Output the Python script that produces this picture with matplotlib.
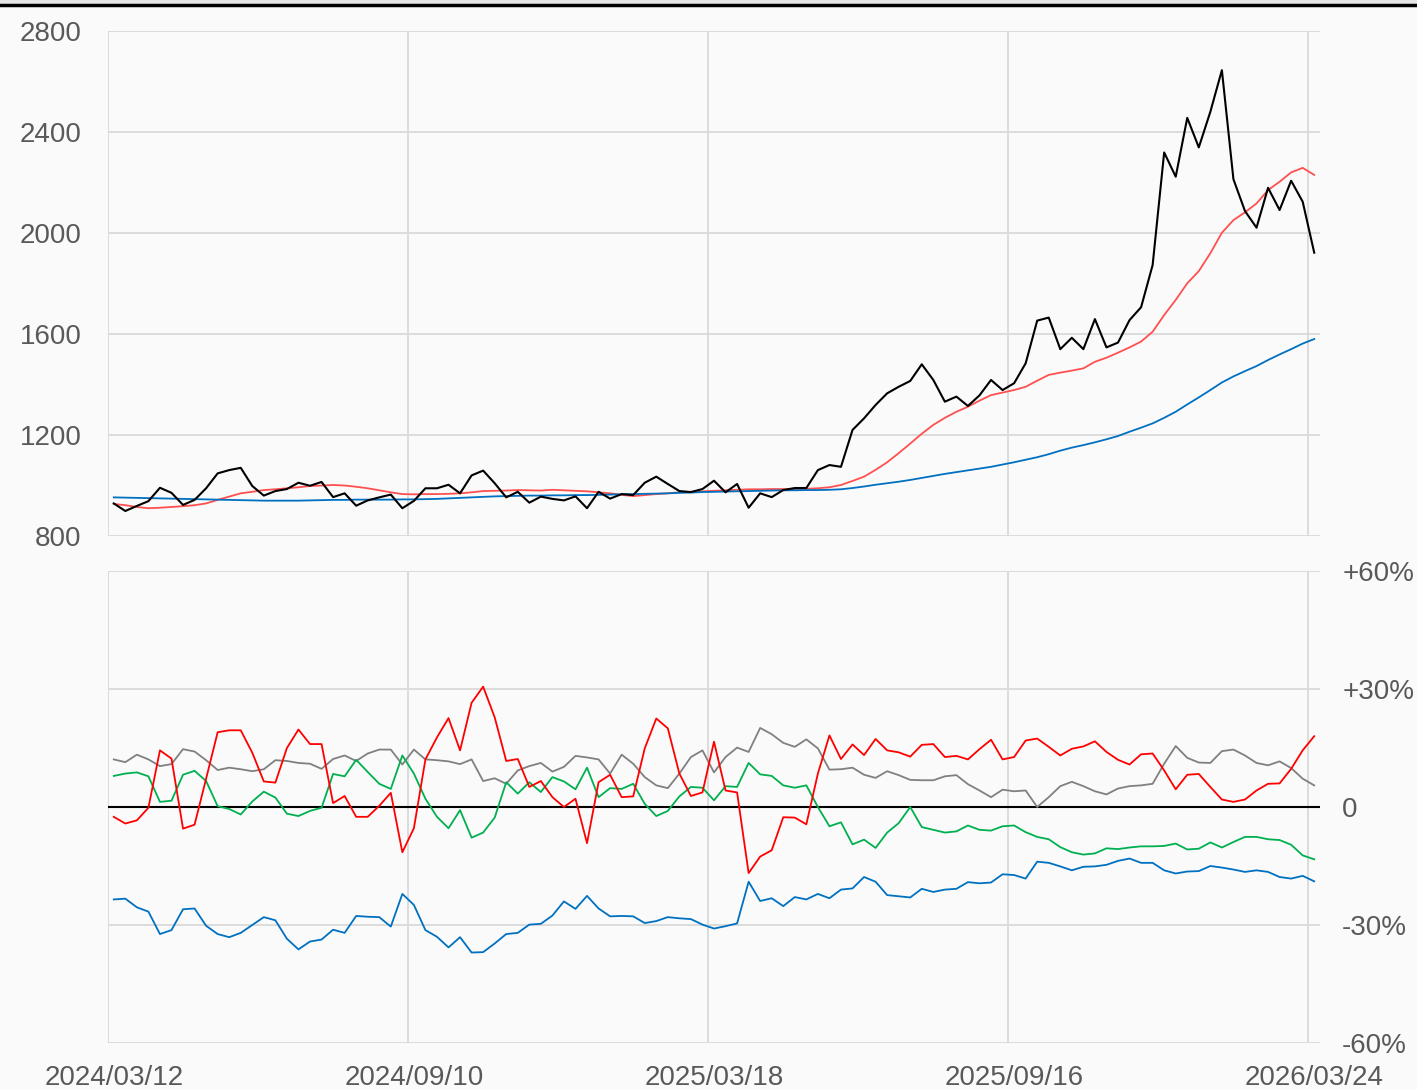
import matplotlib
matplotlib.use("Agg")
import matplotlib.pyplot as plt
from matplotlib.lines import Line2D
from matplotlib.patches import Rectangle
import numpy as np

# ---------------- data ----------------
tick_labels = ["2024/03/12", "2024/09/10", "2025/03/18", "2025/09/16", "2026/03/24"]
tick_index = [0, 26, 52, 78, 104]

price = [929, 899, 919, 938, 991, 971, 923, 943, 989, 1048,
         1061, 1070, 998, 960, 978, 986, 1011, 999, 1014, 954,
         969, 920, 941, 953, 964, 910, 939, 989, 989, 1003,
         969, 1040, 1059, 1009, 953, 975, 932, 956, 947, 941,
         957, 910, 975, 948, 966, 962, 1011, 1035, 1006, 978,
         974, 986, 1019, 973, 1006, 912, 969, 954, 982, 990,
         990, 1061, 1081, 1074, 1220, 1266, 1319, 1365, 1391, 1414,
         1480, 1418, 1332, 1352, 1315, 1357, 1418, 1378, 1405, 1484,
         1653, 1665, 1540, 1585, 1540, 1659, 1547, 1566, 1655, 1706,
         1873, 2319, 2223, 2456, 2339, 2480, 2645, 2213, 2087, 2021,
         2179, 2091, 2207, 2124, 1922]

ma_short = [927, 922, 915, 910, 912, 915, 918, 922, 929, 943,
            956, 969, 975, 982, 985, 989, 993, 998, 1000, 1002,
            1000, 995, 989, 981, 973, 966, 965, 966, 966, 967,
            969, 973, 978, 979, 980, 982, 981, 980, 983, 981,
            979, 977, 973, 969, 963, 958, 962, 966, 969, 973,
            975, 977, 979, 981, 983, 985, 985, 986, 986, 986,
            987, 989, 993, 1002, 1018, 1035, 1062, 1092, 1128, 1166,
            1205, 1240, 1268, 1292, 1312, 1336, 1358, 1368, 1378, 1391,
            1415, 1438, 1447, 1455, 1464, 1490, 1506, 1526, 1547, 1570,
            1609, 1675, 1735, 1801, 1849, 1920, 2001, 2051, 2082, 2117,
            2170, 2203, 2240, 2258, 2230]

ma_long = [953, 952, 951, 950, 949, 948, 947, 946, 945, 944,
           943, 942, 941, 940, 940, 940, 940, 941, 942, 943,
           943, 944, 944, 944, 944, 945, 945, 946, 947, 949,
           951, 953, 955, 957, 958, 959, 960, 960, 961, 961,
           962, 962, 963, 964, 965, 966, 967, 968, 969, 971,
           972, 974, 975, 976, 977, 978, 979, 980, 981, 981,
           982, 982, 983, 985, 990, 996, 1003, 1009, 1015, 1022,
           1030, 1038, 1046, 1053, 1060, 1067, 1074, 1083, 1092, 1102,
           1112, 1124, 1138, 1150, 1160, 1171, 1183, 1196, 1213, 1229,
           1246, 1268, 1292, 1321, 1349, 1378, 1408, 1432, 1453, 1473,
           1497, 1519, 1540, 1562, 1580]

dev_red = [-2.5, -4.2, -3.4, -0.2, 14.4, 12.3, -5.5, -4.5, 7.2, 19.0,
           19.5, 19.5, 13.8, 6.5, 6.2, 15.0, 19.7, 16.0, 16.0, 1.0,
           2.8, -2.5, -2.5, 0.3, 3.6, -11.5, -5.4, 12.1, 17.7, 22.6,
           14.4, 26.5, 30.6, 22.8, 11.7, 12.2, 5.1, 6.6, 2.5, 0.0,
           2.1, -9.2, 6.3, 8.2, 2.5, 2.7, 14.9, 22.5, 20.0, 8.5,
           2.8, 3.7, 16.6, 4.2, 3.7, -16.8, -12.6, -11.0, -2.6, -2.7,
           -4.4, 8.5, 18.2, 12.2, 15.9, 13.2, 17.3, 14.4, 13.9, 12.8,
           15.8, 16.0, 12.7, 13.0, 12.1, 14.7, 17.1, 12.1, 12.7, 16.9,
           17.4, 15.3, 13.1, 14.8, 15.4, 16.7, 14.0, 12.0, 10.8, 13.4,
           13.6, 9.3, 4.5, 8.2, 8.4, 5.1, 1.9, 1.3, 1.9, 4.2,
           5.9, 6.0, 9.7, 14.4, 18.0]

dev_green = [7.9, 8.5, 8.8, 7.8, 1.3, 1.6, 8.2, 9.2, 6.6, 0.2,
             -0.5, -1.9, 1.4, 3.9, 2.4, -1.7, -2.3, -1.0, -0.2, 8.4,
             7.8, 12.0, 8.9, 5.9, 4.6, 13.1, 8.5, 2.1, -2.5, -5.4,
             -0.8, -7.8, -6.5, -2.7, 6.3, 3.4, 6.3, 3.8, 7.6, 6.5,
             4.5, 10.0, 2.5, 4.8, 4.6, 5.9, 0.8, -2.3, -1.0, 2.7,
             5.1, 4.9, 1.7, 5.3, 5.1, 11.2, 8.3, 7.9, 5.5, 4.9,
             5.5, 0.0, -4.9, -3.9, -9.5, -8.3, -10.4, -6.5, -4.1, 0.0,
             -5.1, -5.8, -6.5, -6.2, -4.7, -5.8, -6.0, -4.9, -4.7, -6.4,
             -7.6, -8.2, -10.2, -11.5, -12.1, -11.8, -10.5, -10.7, -10.3, -10.0,
             -10.0, -9.9, -9.3, -10.8, -10.6, -9.0, -10.3, -8.9, -7.6, -7.6,
             -8.2, -8.4, -9.6, -12.3, -13.3]

dev_gray = [12.1, 11.4, 13.3, 12.1, 10.4, 10.9, 14.7, 14.1, 11.9, 9.4,
            10.0, 9.6, 9.1, 9.6, 11.9, 11.7, 11.2, 11.0, 9.7, 12.2,
            13.1, 11.7, 13.6, 14.6, 14.6, 10.8, 14.6, 12.1, 11.9, 11.6,
            10.9, 12.1, 6.6, 7.3, 5.9, 9.3, 10.4, 11.2, 9.0, 10.2,
            13.0, 12.6, 12.1, 8.5, 13.3, 11.0, 7.6, 5.5, 4.8, 8.5,
            12.7, 14.4, 8.8, 12.7, 15.1, 14.0, 20.1, 18.5, 16.3, 15.3,
            17.2, 14.9, 9.5, 9.6, 10.0, 8.2, 7.4, 9.1, 8.1, 6.9,
            6.8, 6.8, 7.8, 8.1, 5.8, 4.2, 2.5, 4.4, 4.0, 4.2,
            0.0, 2.5, 5.3, 6.4, 5.3, 4.0, 3.2, 4.7, 5.3, 5.5,
            5.9, 11.0, 15.5, 12.5, 11.3, 11.2, 14.2, 14.6, 13.1, 11.2,
            10.6, 11.6, 9.9, 7.2, 5.5]

dev_blue = [-23.5, -23.3, -25.5, -26.6, -32.3, -31.3, -26.0, -25.8, -30.2, -32.3,
            -33.1, -32.0, -30.0, -28.0, -28.8, -33.5, -36.2, -34.2, -33.7, -31.2,
            -32.0, -27.7, -27.9, -28.0, -30.4, -22.1, -24.9, -31.3, -33.0, -35.7,
            -33.1, -37.0, -36.9, -34.7, -32.3, -32.0, -29.9, -29.7, -27.6, -24.0,
            -25.9, -22.6, -25.8, -27.8, -27.7, -27.8, -29.5, -29.0, -28.0, -28.3,
            -28.5, -29.9, -30.9, -30.3, -29.6, -19.0, -23.9, -23.2, -25.2, -22.9,
            -23.5, -22.1, -23.2, -21.0, -20.7, -17.8, -19.0, -22.4, -22.7, -23.0,
            -20.8, -21.6, -21.0, -20.8, -19.1, -19.4, -19.2, -17.1, -17.3, -18.2,
            -13.9, -14.2, -15.1, -16.1, -15.2, -15.1, -14.7, -13.7, -13.1, -14.2,
            -14.2, -16.1, -16.9, -16.4, -16.3, -15.0, -15.4, -15.9, -16.5, -16.1,
            -16.5, -17.8, -18.2, -17.5, -18.9]

price_ticks = [800, 1200, 1600, 2000, 2400, 2800]
pct_ticks = [-60, -30, 0, 30, 60]
pct_labels = ["-60%", "-30%", "0", "+30%", "+60%"]

# ---------------- style ----------------
plt.rcParams['font.family'] = ['Liberation Sans', 'DejaVu Sans']
BG = "#fafafa"
GRID = "#d9d9d9"
TXT = "#595959"

W, H = 1417, 1090
fig = plt.figure(figsize=(W / 100, H / 100), dpi=100, facecolor=BG)

def box(l, t, r, b):
    return [l / W, 1 - b / H, (r - l) / W, (b - t) / H]

n = len(price)
x = np.arange(n) + 0.5

ax1 = fig.add_axes(box(108, 31, 1320, 536), facecolor=BG)
ax2 = fig.add_axes(box(108, 571, 1320, 1043), facecolor=BG)

for ax in (ax1, ax2):
    ax.set_xlim(0, n)
    for s in ax.spines.values():
        s.set_visible(False)
    for k in tick_index:
        ax.axvline(k, color=GRID, lw=1.3, zorder=0)
    ax.tick_params(length=0, labelsize=20, labelcolor=TXT)

# top panel
ax1.set_ylim(800, 2800)
for v in price_ticks:
    ax1.axhline(v, color=GRID, lw=1.3, zorder=0)
ax1.set_yticks(price_ticks)
ax1.set_yticklabels([str(v) for v in price_ticks])
ax1.tick_params(axis='y', pad=19)
ax1.set_xticks([])
ax1.plot(x, ma_short, color="#ff5050", lw=1.3, zorder=3)
ax1.plot(x, ma_long, color="#0070c0", lw=1.3, zorder=3)
ax1.plot(x, price, color="#000000", lw=1.5, zorder=4)

# bottom panel
ax2.set_ylim(-60, 60)
for v in pct_ticks:
    if v != 0:
        ax2.axhline(v, color=GRID, lw=1.3, zorder=0)
ax2.axhline(0, color="black", lw=1.5, zorder=1)
ax2.yaxis.tick_right()
ax2.set_yticks(pct_ticks)
ax2.set_yticklabels(pct_labels)
ax2.tick_params(axis='y', pad=16)
for lab in ax2.get_yticklabels():
    lab.set_horizontalalignment('left')
ax2.set_xticks([k + 0.5 for k in tick_index])
ax2.set_xticklabels(tick_labels)
ax2.tick_params(axis='x', pad=16)

ax2.plot(x, dev_gray, color="#808080", lw=1.3, zorder=3)
ax2.plot(x, dev_green, color="#00b050", lw=1.3, zorder=3)
ax2.plot(x, dev_red, color="#ff0000", lw=1.3, zorder=4)
ax2.plot(x, dev_blue, color="#0070c0", lw=1.3, zorder=3)

# top border strip
fig.add_artist(Rectangle((0, 1 - 3 / H), 1, 3 / H, transform=fig.transFigure,
                         color="#e6e6e6", zorder=0))
fig.add_artist(Line2D([0, 1], [1 - 5 / H, 1 - 5 / H], transform=fig.transFigure,
                      color="black", lw=2.5))

fig.savefig("out.png", dpi=100, facecolor=BG)
